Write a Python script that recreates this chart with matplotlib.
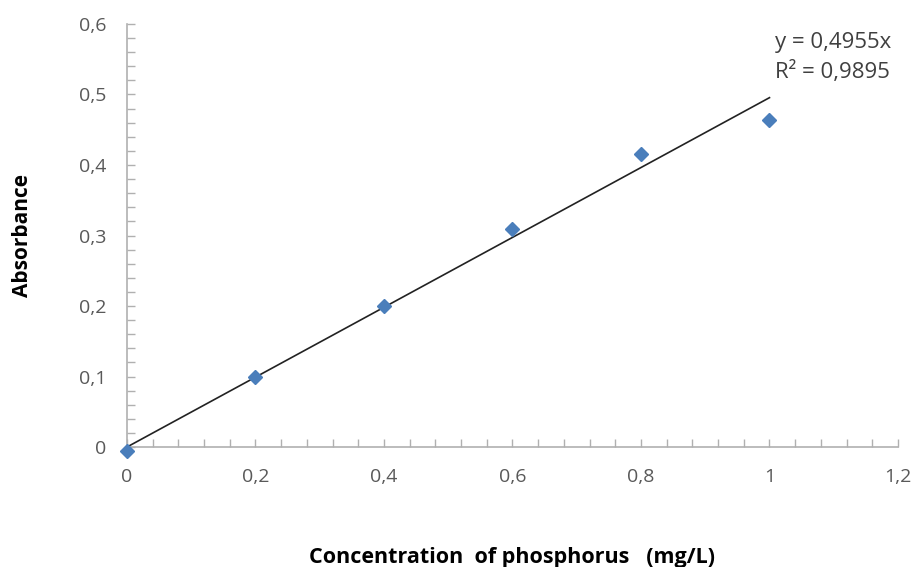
import numpy as np
import matplotlib
matplotlib.use('Agg')
import matplotlib.pyplot as plt
from matplotlib.ticker import MultipleLocator, FuncFormatter

plt.rcParams['font.family'] = ['Open Sans', 'DejaVu Sans']

# concentration (mg/L) and absorbance
conc = [0, 0.2, 0.4, 0.6, 0.8, 1.0]
absorb = [-0.005, 0.1, 0.2, 0.309, 0.416, 0.464]
slope = 0.4955
r2 = 0.9895

x_ticks = [0, 0.2, 0.4, 0.6, 0.8, 1.0, 1.2]
y_ticks = [0, 0.1, 0.2, 0.3, 0.4, 0.5, 0.6]

def comma_fmt(v, pos):
    s = f'{v:.1f}'.rstrip('0').rstrip('.')
    return s.replace('.', ',')

fig = plt.figure(figsize=(9.15, 5.67), dpi=100)
ax = fig.add_axes([0.1388, 0.2116, 0.8426, 0.7461])

# trendline through origin
xl = np.array([0, conc[-1]])
ax.plot(xl, slope * xl, color='#222222', lw=1.2, zorder=2)
ax.plot(conc, absorb, 'D', color='#4a7ebb', ms=7.5, zorder=3, clip_on=False)

ax.set_xlim(0, 1.2)
ax.set_ylim(0, 0.6)
ax.set_xticks(x_ticks)
ax.set_yticks(y_ticks)
ax.xaxis.set_minor_locator(MultipleLocator(0.04))
ax.yaxis.set_minor_locator(MultipleLocator(0.02))
ax.xaxis.set_major_formatter(FuncFormatter(comma_fmt))
ax.yaxis.set_major_formatter(FuncFormatter(comma_fmt))

for s in ['top', 'right']:
    ax.spines[s].set_visible(False)
for s in ['left', 'bottom']:
    ax.spines[s].set_color('#b0b0b0')
    ax.spines[s].set_linewidth(1.2)
ax.tick_params(which='both', direction='in', color='#b0b0b0', width=1.0,
               labelsize=14, labelcolor='#595959')
ax.tick_params(which='major', length=6)
ax.tick_params(which='minor', length=6)
ax.tick_params(axis='y', which='major', pad=15)
ax.tick_params(axis='x', which='major', pad=15)

ax.text(1.009, 0.574, f'y = {slope:.4f}x'.replace('.', ','), fontsize=16,
        color='#404040', va='center', ha='left')
ax.text(1.009, 0.532, f'R² = {r2:.4f}'.replace('.', ','), fontsize=16,
        color='#404040', va='center', ha='left')

ax.set_xlabel('Concentration  of phosphorus   (mg/L)', fontsize=15.5,
              fontweight='bold', va='center')
ax.set_ylabel('Absorbance', fontsize=15, fontweight='bold', va='center')
ax.xaxis.set_label_coords(0.499, -0.262)
ax.yaxis.set_label_coords(-0.135, 0.5)

fig.savefig('out.png', dpi=100)
